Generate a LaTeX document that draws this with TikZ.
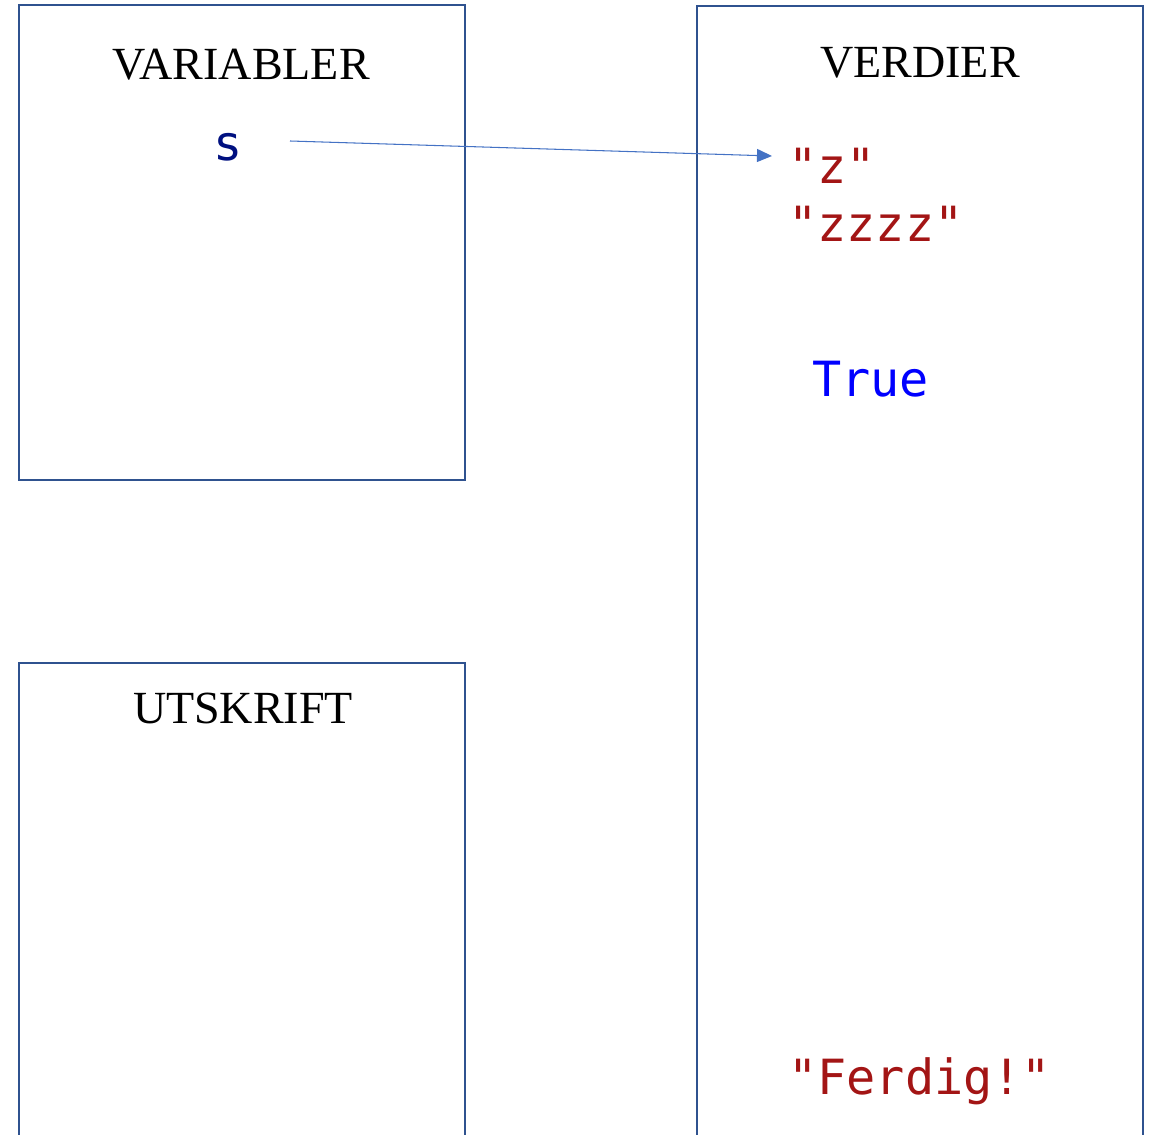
\documentclass[tikz,border=0pt]{standalone}
\usepackage{fontspec}
\setmainfont{Liberation Serif}
\newfontfamily\codefont{DejaVu Sans Mono}
\usetikzlibrary{arrows.meta}
\definecolor{framecol}{HTML}{2F528F}
\definecolor{arrowcol}{HTML}{4472C4}
\definecolor{varcol}{HTML}{001080}
\definecolor{strcol}{HTML}{A31515}
\definecolor{kwcol}{HTML}{0000FF}
\tikzset{
  frame/.style={draw=framecol,line width=1.5pt},
  heading/.style={inner sep=0pt,anchor=base,font=\fontsize{26.2}{30}\selectfont},
  code/.style={inner sep=0pt,anchor=base west,font=\codefont\fontsize{27.6}{30}\selectfont},
  pointer/.style={draw=arrowcol,line width=0.6pt,-{Triangle[length=0.30cm,width=0.26cm]}}
}
\begin{document}
\begin{tikzpicture}
\useasboundingbox (0,0) rectangle (23.02,-22.70);
% The three boxes
\draw[frame] (0.38,-0.10) rectangle (9.30,-9.60);
\draw[frame] (0.38,-13.26) rectangle (9.30,-23.20);
\draw[frame] (13.94,-0.12) rectangle (22.86,-23.20);
% Headings
\node[heading] (variabler) at (4.82,-1.60) {VARIABLER};
\node[heading] (verdier) at (18.40,-1.56) {VERDIER};
\node[heading] (utskrift) at (4.86,-14.48) {UTSKRIFT};
% Variable and values
\node[code,anchor=base,text=varcol] (s) at (4.56,-3.22) {s};
\node[code,text=strcol] (z) at (15.76,-3.68) {"z"};
\node[code,text=strcol] (zzzz) at (15.76,-4.84) {"zzzz"};
\node[code,text=kwcol] (true) at (16.24,-7.94) {True};
\node[code,text=strcol] (ferdig) at (15.76,-21.90) {"Ferdig!"};
% Reference from s to its value
\draw[pointer] ([xshift=1.24cm,yshift=0.40cm]s.base) -- ([xshift=-0.32cm,yshift=0.56cm]z.base west);
\end{tikzpicture}
\end{document}
